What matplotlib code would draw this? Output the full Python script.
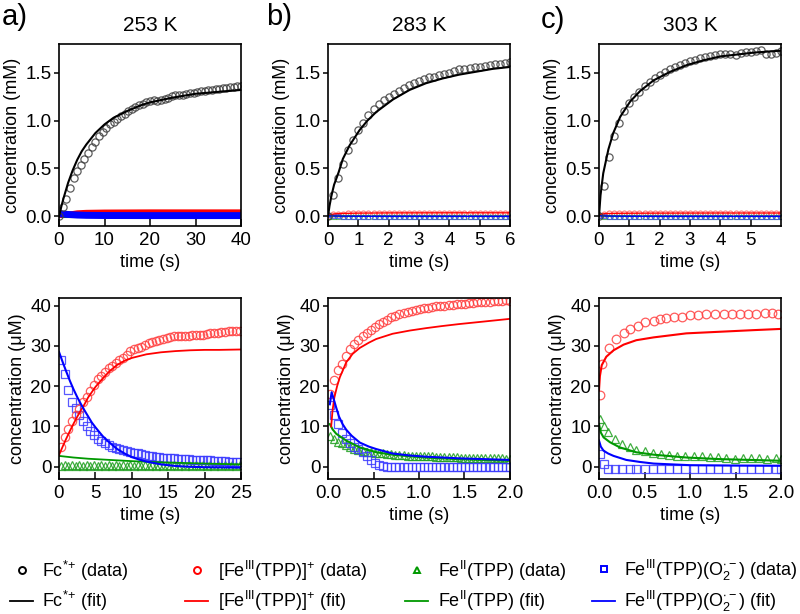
"""Fc*+ / Fe(TPP) kinetics at 253, 283 and 303 K (top: mM, bottom: uM)."""

import matplotlib
matplotlib.use("Agg")
from matplotlib import pyplot as plt
from matplotlib.lines import Line2D
import numpy as np

plt.rcParams["font.family"] = ["Liberation Sans", "DejaVu Sans"]
plt.rcParams["mathtext.fontset"] = "custom"
plt.rcParams["mathtext.rm"] = "Liberation Sans"
plt.rcParams["mathtext.it"] = "Liberation Sans:italic"
plt.rcParams["mathtext.bf"] = "Liberation Sans:bold"

TEMPS = ["253 K", "283 K", "303 K"]
PANELS = ["a)", "b)", "c)"]

# ---------------------------------------------------------------- top row (mM)
t_top_a = np.linspace(0, 40, 51)
fc_a_data = [0.00, 0.10, 0.18, 0.30, 0.40, 0.47, 0.54, 0.60, 0.66, 0.72,
             0.78, 0.84, 0.88, 0.92, 0.96, 0.99, 1.02, 1.05, 1.07, 1.10,
             1.12, 1.14, 1.16, 1.17, 1.19, 1.20, 1.21, 1.20, 1.22, 1.23,
             1.24, 1.26, 1.27, 1.27, 1.27, 1.28, 1.29, 1.29, 1.30, 1.31,
             1.31, 1.32, 1.32, 1.33, 1.33, 1.34, 1.34, 1.35, 1.35, 1.36,
             1.36]
fc_a_fit_t = [0, 0.5, 1, 2, 3, 4, 5, 6, 8, 10, 12, 15, 18, 20, 25, 30, 35, 40]
fc_a_fit = [0.0, 0.10, 0.19, 0.35, 0.48, 0.59, 0.68, 0.75, 0.87, 0.96,
            1.03, 1.10, 1.16, 1.19, 1.24, 1.28, 1.30, 1.32]
# the three minor species at 253 K show up only as a thick band near zero
band_a_t = [0, 2, 4, 6, 10, 20, 30, 40]
band_a_red = [0.004, 0.025, 0.040, 0.045, 0.048, 0.050, 0.050, 0.050]
band_a_blue = [0.028, 0.020, 0.014, 0.011, 0.009, 0.008, 0.008, 0.008]
band_a_green = [-0.010, -0.010, -0.010, -0.010, -0.010, -0.010, -0.010, -0.010]

t_top_bc = np.linspace(0, 6, 37)
fc_b_data = [0.00, 0.22, 0.40, 0.55, 0.69, 0.80, 0.90, 0.98, 1.06, 1.12,
             1.17, 1.21, 1.25, 1.28, 1.31, 1.34, 1.37, 1.39, 1.41, 1.43,
             1.45, 1.46, 1.48, 1.49, 1.50, 1.52, 1.54, 1.54, 1.55, 1.56,
             1.56, 1.57, 1.58, 1.59, 1.59, 1.60, 1.61]
fc_b_fit_t = [0, 0.05, 0.11, 0.2, 0.27, 0.35, 0.49, 0.71, 1.04, 1.3, 1.59,
              2.14, 2.69, 3.23, 3.78, 4.33, 4.88, 5.43, 6.0]
fc_b_fit = [0.0, 0.11, 0.21, 0.33, 0.39, 0.46, 0.60, 0.74, 0.90, 1.00, 1.09,
            1.22, 1.32, 1.39, 1.44, 1.48, 1.51, 1.54, 1.56]
b_red_top = [0.000, 0.020, 0.026, 0.029, 0.031, 0.032, 0.033, 0.033, 0.034,
             0.034, 0.035, 0.035, 0.035, 0.036, 0.036, 0.036, 0.036, 0.037,
             0.037, 0.037, 0.037, 0.037, 0.038, 0.038, 0.038, 0.038, 0.038,
             0.038, 0.039, 0.039, 0.039, 0.039, 0.039, 0.039, 0.040, 0.040,
             0.040]
b_blue_top = [0.015, 0.003, 0.000, -0.002, -0.003, -0.004, -0.004, -0.004,
              -0.004, -0.004, -0.004, -0.004, -0.004, -0.004, -0.004, -0.004,
              -0.004, -0.004, -0.004, -0.004, -0.004, -0.004, -0.004, -0.004,
              -0.004, -0.004, -0.004, -0.004, -0.004, -0.004, -0.004, -0.004,
              -0.004, -0.004, -0.004, -0.004, -0.004]
b_green_top = [0.008, 0.005, 0.004, 0.003, 0.003, 0.003, 0.003, 0.003, 0.002,
               0.002, 0.002, 0.002, 0.002, 0.002, 0.002, 0.002, 0.002, 0.002,
               0.002, 0.002, 0.002, 0.002, 0.002, 0.002, 0.002, 0.002, 0.002,
               0.002, 0.002, 0.002, 0.002, 0.002, 0.002, 0.002, 0.002, 0.002,
               0.002]

fc_c_data = [0.00, 0.32, 0.62, 0.84, 0.98, 1.10, 1.18, 1.25, 1.30, 1.36,
             1.40, 1.44, 1.48, 1.51, 1.54, 1.56, 1.58, 1.60, 1.62, 1.63,
             1.65, 1.66, 1.67, 1.68, 1.69, 1.69, 1.70, 1.68, 1.71, 1.72,
             1.72, 1.73, 1.74, 1.70, 1.70, 1.71, 1.73]
fc_c_fit_t = [0, 0.05, 0.14, 0.31, 0.47, 0.7, 1.03, 1.36, 1.8, 2.35, 2.9,
              3.45, 4.0, 4.56, 5.11, 6.0]
fc_c_fit = [0.0, 0.22, 0.45, 0.70, 0.87, 1.04, 1.20, 1.31, 1.42, 1.51, 1.58,
            1.63, 1.67, 1.69, 1.71, 1.73]
c_red_top = [0.018, 0.030, 0.033, 0.035, 0.036, 0.036, 0.037, 0.037, 0.037,
             0.038, 0.038, 0.038, 0.038, 0.038, 0.038, 0.038, 0.038, 0.038,
             0.038, 0.038, 0.038, 0.038, 0.038, 0.038, 0.038, 0.038, 0.038,
             0.038, 0.038, 0.038, 0.038, 0.038, 0.038, 0.038, 0.038, 0.038,
             0.038]
c_blue_top = [0.003, -0.001, -0.003, -0.004, -0.004, -0.004, -0.004, -0.004,
              -0.004, -0.004, -0.004, -0.004, -0.004, -0.004, -0.004, -0.004,
              -0.004, -0.004, -0.004, -0.004, -0.004, -0.004, -0.004, -0.004,
              -0.004, -0.004, -0.004, -0.004, -0.004, -0.004, -0.004, -0.004,
              -0.004, -0.004, -0.004, -0.004, -0.004]
c_green_top = [0.012, 0.006, 0.004, 0.003, 0.003, 0.003, 0.002, 0.002, 0.002,
               0.002, 0.002, 0.002, 0.002, 0.002, 0.002, 0.002, 0.002, 0.002,
               0.002, 0.002, 0.002, 0.002, 0.002, 0.002, 0.002, 0.002, 0.002,
               0.002, 0.002, 0.002, 0.002, 0.002, 0.002, 0.002, 0.002, 0.002,
               0.002]
minor_fit_t = [0, 0.2, 0.5, 1, 2, 4, 6]
b_red_fit_top = [0.010, 0.026, 0.031, 0.034, 0.036, 0.037, 0.037]
c_red_fit_top = [0.019, 0.029, 0.032, 0.033, 0.034, 0.035, 0.035]
bc_blue_fit_top = [0.006, 0.004, 0.002, 0.001, 0.000, 0.000, 0.000]
bc_green_fit_top = [0.010, 0.005, 0.003, 0.002, 0.001, 0.001, 0.001]

# ------------------------------------------------------------- bottom row (uM)
t_bot_a = np.linspace(0.3, 24.8, 50)
a_red = [5.0, 7.5, 9.3, 11.3, 12.9, 14.4, 16.0, 17.2, 18.9, 20.4,
         21.7, 22.5, 23.5, 24.4, 25.1, 25.8, 26.4, 27.0, 27.7, 28.6,
         29.1, 29.5, 29.8, 30.2, 30.6, 31.0, 31.3, 31.5, 31.8, 32.0,
         32.2, 32.4, 32.4, 32.4, 32.4, 32.5, 32.6, 32.7, 32.7, 32.8,
         33.0, 33.1, 33.2, 33.3, 33.4, 33.5, 33.6, 33.7, 33.8, 33.8]
a_blue = [26.5, 23.0, 19.0, 16.0, 14.5, 12.8, 11.3, 10.0, 9.0, 8.0,
          7.0, 6.3, 5.8, 5.3, 4.9, 4.6, 4.3, 4.1, 3.9, 3.7,
          3.5, 3.3, 3.1, 2.9, 2.8, 2.6, 2.5, 2.4, 2.3, 2.2,
          2.15, 2.1, 2.0, 2.0, 1.9, 1.9, 1.8, 1.8, 1.7, 1.7,
          1.6, 1.6, 1.5, 1.5, 1.4, 1.4, 1.3, 1.3, 1.3, 1.2]
a_green = [0.3, 0.4, 0.3, 0.4, 0.3, 0.4, 0.3, 0.4, 0.3, 0.4,
           0.3, 0.4, 0.3, 0.4, 0.3, 0.4, 0.3, 0.4, 0.3, 0.4,
           0.3, 0.4, 0.3, 0.4, 0.3, 0.4, 0.3, 0.4, 0.3, 0.4,
           0.3, 0.4, 0.3, 0.4, 0.3, 0.4, 0.3, 0.4, 0.3, 0.4,
           0.3, 0.4, 0.3, 0.4, 0.3, 0.4, 0.3, 0.4, 0.3, 0.4]
a_red_fit_t = [0, 0.5, 1, 1.5, 2, 2.5, 3, 3.5, 4, 5, 6, 7, 8, 9, 10, 12, 14,
               16, 18, 20, 22, 25]
a_red_fit = [2.9, 5.0, 7.0, 8.9, 10.7, 12.4, 14.0, 15.5, 17.2, 19.8, 21.9,
             23.8, 25.3, 26.3, 27.0, 27.9, 28.4, 28.7, 28.9, 29.0, 29.0, 29.1]
a_blue_fit_t = [0, 0.5, 1, 1.5, 2, 2.5, 3, 3.5, 4, 4.5, 5, 6, 7, 8, 9, 10, 11,
                12, 14, 16, 18, 20, 25]
a_blue_fit = [28.5, 26.0, 23.6, 21.3, 19.2, 17.3, 15.6, 14.0, 12.5, 11.0,
              9.8, 7.6, 5.9, 4.4, 3.3, 2.4, 1.8, 1.3, 0.6, 0.2, 0.0, -0.1,
              -0.2]
a_green_fit_t = [0, 2, 4, 6, 8, 10, 12, 15, 18, 21, 25]
a_green_fit = [2.7, 2.3, 2.0, 1.8, 1.6, 1.4, 1.25, 1.05, 0.9, 0.75, 0.6]

t_bot_b = np.linspace(0.02, 2.0, 45)
b_red = [18.0, 21.5, 23.9, 25.6, 27.6, 29.1, 30.5, 31.4, 32.5, 33.3,
         34.0, 34.8, 35.3, 35.9, 36.5, 37.1, 37.5, 37.8, 38.1, 38.3,
         38.6, 38.9, 39.1, 39.3, 39.5, 39.6, 39.8, 39.9, 40.0, 40.1,
         40.2, 40.3, 40.4, 40.5, 40.6, 40.7, 40.8, 40.8, 40.9, 41.0,
         41.1, 41.1, 41.2, 41.3, 41.2]
b_blue = [15.4, 12.9, 10.6, 8.4, 6.9, 5.9, 5.0, 4.4, 3.6, 2.6,
          1.8, 1.0, 0.4, 0.1, 0.0, 0.0, 0.0, 0.0, 0.0, 0.0,
          0.0, 0.0, 0.0, 0.0, 0.0, 0.0, 0.0, 0.0, 0.0, 0.0,
          0.0, 0.0, 0.0, 0.0, 0.0, 0.0, 0.0, 0.0, 0.0, 0.0,
          0.0, 0.0, 0.0, 0.0, 0.0]
b_green = [7.7, 6.9, 6.2, 5.8, 5.3, 4.8, 4.4, 4.1, 3.9, 3.7,
           3.6, 3.5, 3.4, 3.3, 3.2, 3.1, 3.0, 2.9, 2.9, 2.8,
           2.8, 2.7, 2.7, 2.6, 2.6, 2.6, 2.5, 2.5, 2.5, 2.4,
           2.4, 2.4, 2.3, 2.3, 2.3, 2.3, 2.2, 2.2, 2.2, 2.2,
           2.1, 2.1, 2.1, 2.0, 2.0]
b_red_fit_t = [0.035, 0.05, 0.07, 0.1, 0.13, 0.17, 0.2, 0.27, 0.35, 0.45,
               0.53, 0.71, 0.9, 1.08, 1.25, 1.44, 1.7, 2.0]
b_red_fit = [10.0, 14.0, 17.2, 20.0, 22.2, 24.3, 25.9, 28.0, 29.5, 30.8,
             31.7, 33.0, 33.8, 34.4, 34.9, 35.4, 36.0, 36.7]
b_blue_fit_t = [0.02, 0.04, 0.06, 0.09, 0.12, 0.16, 0.2, 0.26, 0.35, 0.45,
                0.53, 0.71, 0.9, 1.08, 1.44, 2.0]
b_blue_fit = [15.5, 18.5, 17.0, 14.7, 12.5, 10.6, 9.2, 7.7, 6.0, 5.0,
              4.4, 3.3, 2.8, 2.5, 2.1, 1.7]
b_green_fit_t = [0.02, 0.05, 0.09, 0.2, 0.35, 0.53, 0.71, 0.9, 1.08, 1.44, 2.0]
b_green_fit = [10.6, 9.3, 8.2, 6.5, 4.8, 3.6, 3.0, 2.6, 2.3, 1.9, 1.5]

t_c_red = [0.01, 0.03, 0.11, 0.19, 0.27, 0.34, 0.43, 0.5, 0.6, 0.67, 0.74,
           0.82, 0.91, 1.0, 1.09, 1.18, 1.27, 1.37, 1.46, 1.55, 1.64, 1.73,
           1.82, 1.9, 1.97]
c_red = [17.7, 25.6, 29.5, 31.8, 33.2, 34.3, 34.9, 36.0, 36.2, 36.6, 36.8,
         37.2, 37.2, 37.7, 37.7, 37.9, 37.8, 38.0, 38.0, 38.0, 38.0, 38.0,
         38.2, 38.2, 37.8]
t_c_other = [0.01, 0.05, 0.1, 0.18, 0.25, 0.34, 0.41, 0.5, 0.59, 0.68, 0.77,
             0.86, 0.95, 1.04, 1.13, 1.22, 1.31, 1.4, 1.49, 1.58, 1.67, 1.76,
             1.85, 1.94, 2.0]
c_green = [11.9, 10.0, 8.6, 6.9, 5.7, 4.8, 4.2, 3.8, 3.4, 3.2, 3.0, 2.8, 2.7,
           2.6, 2.6, 2.5, 2.4, 2.3, 2.0, 2.2, 2.1, 2.2, 2.0, 2.1, 1.9]
c_blue = [3.2, 0.7, -0.5, -0.6, -0.6, -0.6, -0.6, -0.6, -0.6, -0.6, -0.6,
          -0.6, -0.6, -0.6, -0.6, -0.6, -0.6, -0.6, -0.6, -0.6, -0.6, -0.6,
          -0.6, -0.6, -0.6]
c_red_fit_t = [0.0, 0.01, 0.03, 0.08, 0.16, 0.27, 0.41, 0.6, 0.96, 1.33, 1.7,
               2.0]
c_red_fit = [19.0, 22.5, 25.2, 27.3, 28.9, 30.3, 31.4, 32.1, 33.1, 33.5,
             33.9, 34.2]
c_blue_fit_t = [0.0, 0.02, 0.05, 0.1, 0.16, 0.3, 0.45, 0.6, 0.8, 1.0, 1.5, 2.0]
c_blue_fit = [6.5, 5.0, 4.0, 3.3, 2.7, 1.7, 1.2, 0.8, 0.6, 0.4, 0.3, 0.25]
c_green_fit_t = [0.0, 0.02, 0.05, 0.12, 0.23, 0.41, 0.6, 0.96, 1.33, 2.0]
c_green_fit = [10.6, 8.5, 7.3, 6.1, 4.8, 3.6, 3.0, 2.3, 1.9, 1.5]

# colours
RED = "#ff0000"
GREEN = "#009900"
BLUE = "#0000ff"
RED_MK = "#ff4040"
GREEN_MK = "#20a020"
BLUE_MK = "#3b3bff"
FC_MK = "#404040"

TICK_SIZE = 13.5
LABEL_SIZE = 13


def _style(ax, xlim, xticks, xticklabels, ylim, yticks, ylabel):
    ax.set_xlim(*xlim)
    ax.set_ylim(*ylim)
    ax.set_xticks(xticks)
    ax.set_xticklabels(xticklabels)
    ax.set_yticks(yticks)
    ax.tick_params(axis="x", direction="in", length=5, width=1.1,
                   labelsize=TICK_SIZE, pad=4)
    ax.tick_params(axis="y", direction="out", length=3.5, width=1.1,
                   labelsize=TICK_SIZE, pad=2)
    for sp in ax.spines.values():
        sp.set_linewidth(1.2)
    ax.set_xlabel("time (s)", fontsize=LABEL_SIZE, labelpad=4)
    ax.set_ylabel(ylabel, fontsize=LABEL_SIZE, labelpad=3)


def _data(ax, t, y, marker, color, ms, mew=0.9, alpha=0.85):
    ax.plot(t, y, ls="none", marker=marker, mfc="none", mec=color, ms=ms,
            mew=mew, alpha=alpha)


def _fit(ax, t, y, color, lw=1.3):
    ax.plot(t, y, color=color, lw=lw)


fig = plt.figure(figsize=(8, 6.14), dpi=100)

lefts = [59 / 800, 328 / 800, 599 / 800]
width = 182 / 800
top_row = [fig.add_axes([l, 0.632, width, 0.2964]) for l in lefts]
bot_row = [fig.add_axes([l, 0.2194, width, 0.2948]) for l in lefts]

# --- top row
ax = top_row[0]
_fit(ax, band_a_t, band_a_green, GREEN, lw=1.5)
_fit(ax, band_a_t, band_a_red, RED, lw=3.2)
_fit(ax, band_a_t, band_a_blue, BLUE, lw=5)
_data(ax, t_top_a, fc_a_data, "o", FC_MK, 5.2)
_fit(ax, fc_a_fit_t, fc_a_fit, "black", lw=1.5)

for ax, red, blue, green, red_fit, fc_d, fc_ft, fc_f in [
        (top_row[1], b_red_top, b_blue_top, b_green_top, b_red_fit_top,
         fc_b_data, fc_b_fit_t, fc_b_fit),
        (top_row[2], c_red_top, c_blue_top, c_green_top, c_red_fit_top,
         fc_c_data, fc_c_fit_t, fc_c_fit)]:
    _data(ax, t_top_bc, red, "o", RED_MK, 3.6, mew=0.8, alpha=0.7)
    _data(ax, t_top_bc, green, "^", GREEN_MK, 3.6, mew=0.8, alpha=0.7)
    _data(ax, t_top_bc, blue, "s", BLUE_MK, 3.4, mew=0.8, alpha=0.7)
    _fit(ax, minor_fit_t, red_fit, RED, lw=1.0)
    _fit(ax, minor_fit_t, bc_green_fit_top, GREEN, lw=1.0)
    _fit(ax, minor_fit_t, bc_blue_fit_top, BLUE, lw=1.0)
    _data(ax, t_top_bc, fc_d, "o", FC_MK, 5.2)
    _fit(ax, fc_ft, fc_f, "black", lw=1.5)

_style(top_row[0], (0, 40), [0, 10, 20, 30, 40], ["0", "10", "20", "30", "40"],
       (-0.1, 1.8), [0.0, 0.5, 1.0, 1.5], "concentration (mM)")
_style(top_row[1], (0, 6), list(range(7)), [str(i) for i in range(7)],
       (-0.1, 1.8), [0.0, 0.5, 1.0, 1.5], "concentration (mM)")
_style(top_row[2], (0, 6), list(range(6)), [str(i) for i in range(6)],
       (-0.1, 1.8), [0.0, 0.5, 1.0, 1.5], "concentration (mM)")
for ax in top_row:
    ax.set_yticklabels(["0.0", "0.5", "1.0", "1.5"])

for ax, temp in zip(top_row, TEMPS):
    ax.set_title(temp, fontsize=15, pad=9)

# --- bottom row
ax = bot_row[0]
_data(ax, t_bot_a, a_green, "^", GREEN_MK, 5.2)
_data(ax, t_bot_a, a_blue, "s", BLUE_MK, 5.6)
_data(ax, t_bot_a, a_red, "o", RED_MK, 6.0)
_fit(ax, a_green_fit_t, a_green_fit, GREEN)
_fit(ax, a_red_fit_t, a_red_fit, RED)
_fit(ax, a_blue_fit_t, a_blue_fit, BLUE, lw=1.5)

ax = bot_row[1]
_data(ax, t_bot_b, b_green, "^", GREEN_MK, 5.2)
_data(ax, t_bot_b, b_blue, "s", BLUE_MK, 5.6)
_data(ax, t_bot_b, b_red, "o", RED_MK, 6.0)
_fit(ax, b_green_fit_t, b_green_fit, GREEN, lw=1.5)
_fit(ax, b_red_fit_t, b_red_fit, RED)
_fit(ax, b_blue_fit_t, b_blue_fit, BLUE, lw=1.5)

ax = bot_row[2]
_data(ax, t_c_other, c_green, "^", GREEN_MK, 5.6)
_data(ax, t_c_other, c_blue, "s", BLUE_MK, 5.4)
_data(ax, t_c_red, c_red, "o", RED_MK, 6.2)
_fit(ax, c_green_fit_t, c_green_fit, GREEN, lw=1.5)
_fit(ax, c_red_fit_t, c_red_fit, RED, lw=1.5)
_fit(ax, c_blue_fit_t, c_blue_fit, BLUE, lw=1.5)

_style(bot_row[0], (0, 25), [0, 5, 10, 15, 20, 25],
       ["0", "5", "10", "15", "20", "25"], (-3.1, 41.8),
       [0, 10, 20, 30, 40], "concentration (\u03bcM)")
for ax in bot_row[1:]:
    _style(ax, (0, 2), [0, 0.5, 1.0, 1.5, 2.0],
           ["0.0", "0.5", "1.0", "1.5", "2.0"], (-3.1, 41.8),
           [0, 10, 20, 30, 40], "concentration (\u03bcM)")

# panel letters
fig.text(0.002, 0.972, PANELS[0], fontsize=21, va="center", ha="left")
fig.text(0.333, 0.972, PANELS[1], fontsize=21, va="center", ha="left")
fig.text(0.676, 0.968, PANELS[2], fontsize=21, va="center", ha="left")

# --- legend, four hand-placed columns
species = [
    (r"Fc$^{*}$$^{+}$", "black", "o"),
    (r"[Fe$^{\mathrm{III}}$(TPP)]$^{+}$", RED, "o"),
    (r"Fe$^{\mathrm{II}}$(TPP)", GREEN, "^"),
    (r"Fe$^{\mathrm{III}}$(TPP)(O$_2^{\bullet-}$)", BLUE, "s"),
]
col_x = [10 / 800, 185 / 800, 405 / 800, 592 / 800]
for (name, color, marker), x in zip(species, col_x):
    handles = [Line2D([], [], ls="none", marker=marker, mfc="none", mec=color,
                      ms=5, mew=1.4),
               Line2D([], [], color=color, lw=1.3)]
    labels = [name + " (data)", name + " (fit)"]
    fig.legend(handles, labels, loc="center left", bbox_to_anchor=(x, 0.046),
               frameon=False, fontsize=LABEL_SIZE, handlelength=1.3,
               handletextpad=0.5, labelspacing=0.35, borderpad=0,
               borderaxespad=0, numpoints=1)

fig.savefig("out.png", dpi=100)
